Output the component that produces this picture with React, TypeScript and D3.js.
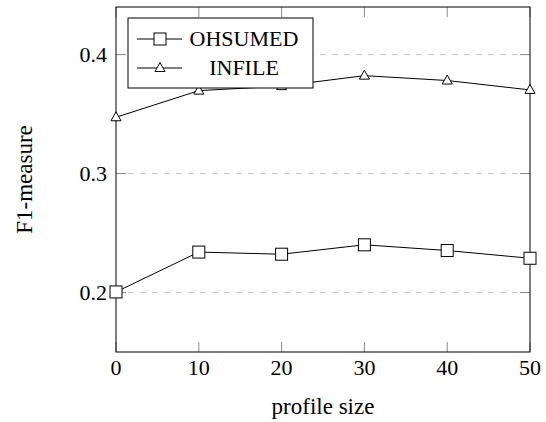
import React from 'react';
import * as d3 from 'd3';

const profileSizes = [0, 10, 20, 30, 40, 50];
const ohsumed = [0.2005, 0.234, 0.2322, 0.2401, 0.2353, 0.2288];
const infile = [0.3473, 0.3697, 0.3735, 0.3823, 0.3782, 0.3703];
const yTicks = [0.2, 0.3, 0.4];

const width = 546;
const height = 422;
const margin = { top: 7, right: 16, bottom: 70, left: 116 };
const font = '"Liberation Serif", "Times New Roman", serif';

const App = () => {
  const x = d3.scaleLinear().domain([0, 50]).range([margin.left, width - margin.right]);
  const y = d3.scaleLinear().domain([0.15, 0.44]).range([height - margin.bottom, margin.top]);
  const line = d3
    .line<number>()
    .x((d, i) => x(profileSizes[i]))
    .y((d) => y(d));

  const x0 = x.range()[0];
  const x1 = x.range()[1];
  const y0 = y.range()[0];
  const y1 = y.range()[1];
  const tick = 10;

  const square = (cx: number, cy: number, key: string | number) => (
    <rect key={key} x={cx - 6} y={cy - 6} width={12} height={12} fill="white" stroke="black" strokeWidth={1} />
  );
  const triangle = (cx: number, cy: number, key: string | number) => (
    <path
      key={key}
      d={`M${cx},${cy - 5.5}L${cx + 5},${cy + 3.5}L${cx - 5},${cy + 3.5}Z`}
      fill="white"
      stroke="black"
      strokeWidth={1}
    />
  );

  return (
    <svg width={width} height={height} style={{ position: 'absolute', left: 0, top: 0 }}>
      {/* grid */}
      {yTicks.map((t) => (
        <line key={'g' + t} x1={x0} x2={x1} y1={y(t)} y2={y(t)} stroke="#c8c8c8" strokeDasharray="6,6" />
      ))}
      {/* ticks */}
      {profileSizes.map((t) => (
        <g key={'xt' + t} stroke="#8a8a8a">
          <line x1={x(t)} x2={x(t)} y1={y0} y2={y0 - tick} />
          <line x1={x(t)} x2={x(t)} y1={y1} y2={y1 + tick} />
        </g>
      ))}
      {yTicks.map((t) => (
        <g key={'yt' + t} stroke="#8a8a8a">
          <line x1={x0} x2={x0 + tick} y1={y(t)} y2={y(t)} />
          <line x1={x1} x2={x1 - tick} y1={y(t)} y2={y(t)} />
        </g>
      ))}
      <rect x={x0} y={y1} width={x1 - x0} height={y0 - y1} fill="none" stroke="black" strokeWidth={1} />

      {/* tick labels */}
      {profileSizes.map((t) => (
        <text key={'xl' + t} x={x(t)} y={y0 + 23} textAnchor="middle" fontFamily={font} fontSize={22}>
          {t}
        </text>
      ))}
      {yTicks.map((t) => (
        <text key={'yl' + t} x={x0 - 9} y={y(t) + 7} textAnchor="end" fontFamily={font} fontSize={22}>
          {t.toFixed(1)}
        </text>
      ))}
      <text x={(x0 + x1) / 2} y={414} textAnchor="middle" fontFamily={font} fontSize={23}>
        profile size
      </text>
      <text
        transform={`translate(32, ${(y0 + y1) / 2}) rotate(-90)`}
        textAnchor="middle"
        fontFamily={font}
        fontSize={23}
      >
        F1-measure
      </text>

      {/* series */}
      <path d={line(ohsumed) ?? ''} fill="none" stroke="black" strokeWidth={1} />
      <path d={line(infile) ?? ''} fill="none" stroke="black" strokeWidth={1} />
      {ohsumed.map((v, i) => square(x(profileSizes[i]), y(v), 'o' + i))}
      {infile.map((v, i) => triangle(x(profileSizes[i]), y(v), 'i' + i))}

      {/* legend */}
      <g>
        <rect x={128} y={18} width={185} height={70} fill="white" stroke="black" strokeWidth={1} />
        <line x1={137} x2={182} y1={39} y2={39} stroke="black" />
        {square(160, 39, 'ls')}
        <text x={244} y={46} textAnchor="middle" fontFamily={font} fontSize={22}>
          OHSUMED
        </text>
        <line x1={137} x2={182} y1={68} y2={68} stroke="black" />
        {triangle(160, 68, 'lt')}
        <text x={244} y={75} textAnchor="middle" fontFamily={font} fontSize={22}>
          INFILE
        </text>
      </g>
    </svg>
  );
};

export default App;
